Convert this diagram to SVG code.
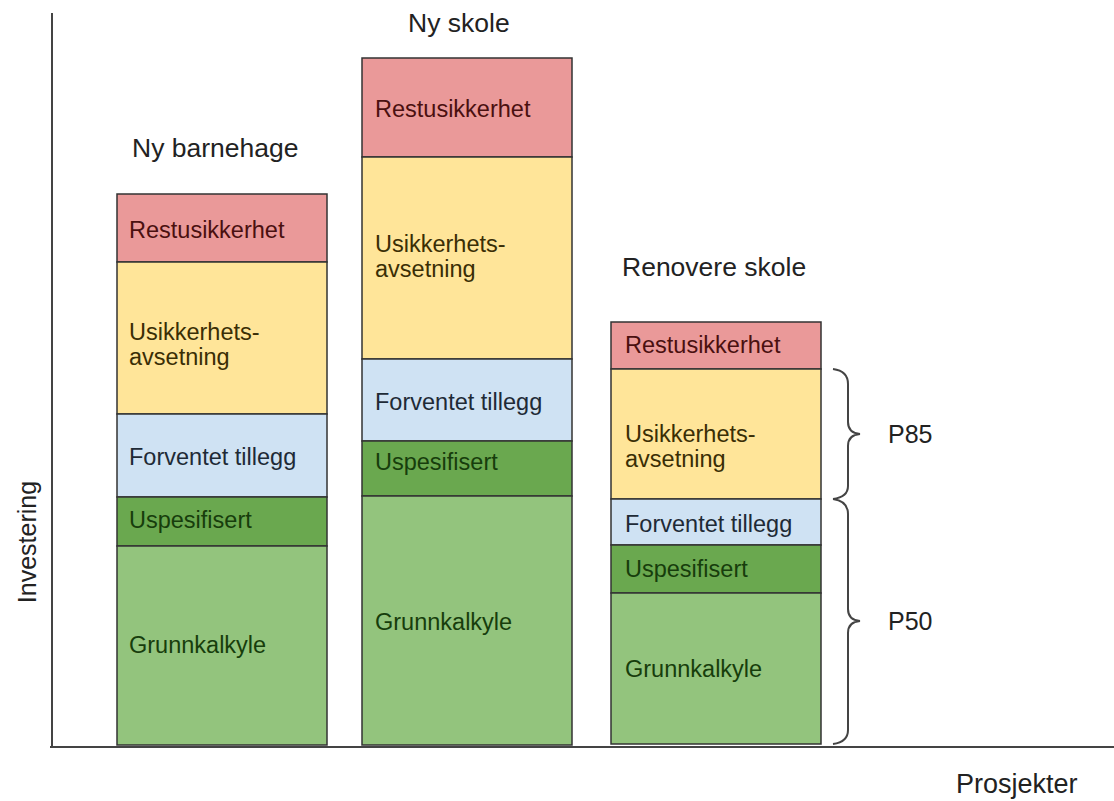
<svg xmlns="http://www.w3.org/2000/svg" width="1114" height="801" viewBox="0 0 1114 801">
  <style>
    text { font-family: "Liberation Sans", Arial, sans-serif; }
    .title { font-size: 26.5px; fill: #222; }
    .lbl { font-size: 23.5px; }
    .axis-lbl { font-size: 25px; fill: #222; }
    .seg { stroke: #333; stroke-width: 1.5; }
    .rest { fill: #EA9999; }
    .usik { fill: #FFE599; }
    .forv { fill: #CFE2F3; }
    .uspe { fill: #6AA84F; }
    .grun { fill: #93C47D; }
    .t-rest { fill: #4a1010; }
    .t-usik { fill: #3a2e05; }
    .t-forv { fill: #1e2a36; }
    .t-uspe { fill: #173d0c; }
    .t-grun { fill: #173d0c; }
    .axis { stroke: #444; stroke-width: 2; fill: none; }
    .brace { stroke: #444; stroke-width: 2; fill: none; }
  </style>

  <!-- axes -->
  <g id="axes">
    <line class="axis" x1="52" y1="13" x2="52" y2="748"/>
    <line class="axis" x1="50" y1="747" x2="1114" y2="747"/>
    <text class="axis-lbl" transform="translate(36,542) rotate(-90)" text-anchor="middle">Investering</text>
    <text class="axis-lbl" x="956" y="793" style="font-size:27px">Prosjekter</text>
  </g>

  <!-- stacked bar: Ny barnehage -->
  <g id="ny-barnehage">
    <text class="title" x="132" y="157">Ny barnehage</text>
    <rect class="seg rest" x="117" y="194" width="210" height="68"/>
    <rect class="seg usik" x="117" y="262" width="210" height="152"/>
    <rect class="seg forv" x="117" y="414" width="210" height="83"/>
    <rect class="seg uspe" x="117" y="497" width="210" height="49"/>
    <rect class="seg grun" x="117" y="546" width="210" height="199"/>
    <text class="lbl t-rest" x="129" y="238">Restusikkerhet</text>
    <text class="lbl t-usik" x="129" y="340">Usikkerhets-</text>
    <text class="lbl t-usik" x="129" y="365">avsetning</text>
    <text class="lbl t-forv" x="129" y="465">Forventet tillegg</text>
    <text class="lbl t-uspe" x="129" y="528">Uspesifisert</text>
    <text class="lbl t-grun" x="129" y="653">Grunnkalkyle</text>
  </g>

  <!-- stacked bar: Ny skole -->
  <g id="ny-skole">
    <text class="title" x="408" y="32">Ny skole</text>
    <rect class="seg rest" x="362" y="58" width="210" height="99"/>
    <rect class="seg usik" x="362" y="157" width="210" height="202"/>
    <rect class="seg forv" x="362" y="359" width="210" height="82"/>
    <rect class="seg uspe" x="362" y="441" width="210" height="55"/>
    <rect class="seg grun" x="362" y="496" width="210" height="249"/>
    <text class="lbl t-rest" x="375" y="117">Restusikkerhet</text>
    <text class="lbl t-usik" x="375" y="252">Usikkerhets-</text>
    <text class="lbl t-usik" x="375" y="277">avsetning</text>
    <text class="lbl t-forv" x="375" y="410">Forventet tillegg</text>
    <text class="lbl t-uspe" x="375" y="470">Uspesifisert</text>
    <text class="lbl t-grun" x="375" y="630">Grunnkalkyle</text>
  </g>

  <!-- stacked bar: Renovere skole -->
  <g id="renovere-skole">
    <text class="title" x="622" y="276">Renovere skole</text>
    <rect class="seg rest" x="611" y="322" width="210" height="47"/>
    <rect class="seg usik" x="611" y="369" width="210" height="130"/>
    <rect class="seg forv" x="611" y="499" width="210" height="46"/>
    <rect class="seg uspe" x="611" y="545" width="210" height="48"/>
    <rect class="seg grun" x="611" y="593" width="210" height="151"/>
    <text class="lbl t-rest" x="625" y="353">Restusikkerhet</text>
    <text class="lbl t-usik" x="625" y="442">Usikkerhets-</text>
    <text class="lbl t-usik" x="625" y="467">avsetning</text>
    <text class="lbl t-forv" x="625" y="532">Forventet tillegg</text>
    <text class="lbl t-uspe" x="625" y="577">Uspesifisert</text>
    <text class="lbl t-grun" x="625" y="677">Grunnkalkyle</text>
  </g>

  <!-- percentile braces -->
  <g id="p85">
    <path class="brace" d="M833,369 Q848,371 848,384 L848,422 Q848,433 860,434 Q848,435 848,446 L848,486 Q848,497 833,499"/>
    <text class="axis-lbl" x="888" y="443">P85</text>
  </g>
  <g id="p50">
    <path class="brace" d="M833,499 Q848,501 848,514 L848,609 Q848,620 860,621 Q848,622 848,633 L848,730 Q848,742 833,744"/>
    <text class="axis-lbl" x="888" y="630">P50</text>
  </g>
</svg>
